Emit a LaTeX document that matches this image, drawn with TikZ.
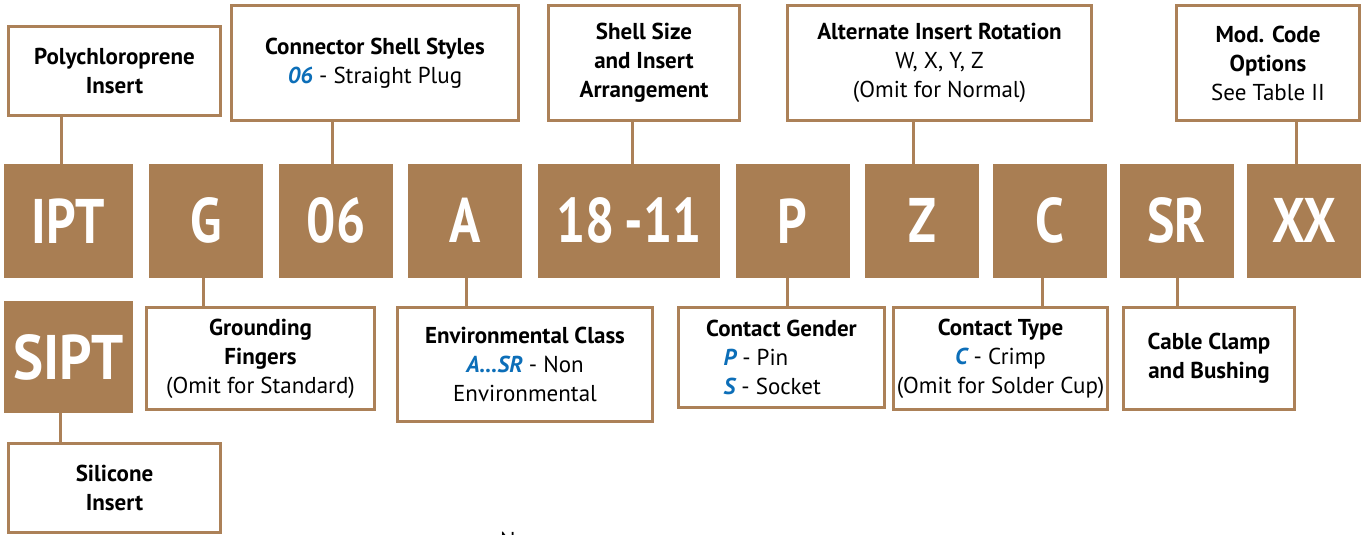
\documentclass[tikz,border=0pt]{standalone}
\usepackage{fontspec}
\setmainfont{PT Sans}
\definecolor{brownfill}{RGB}{169,126,83}
\definecolor{brownline}{RGB}{172,129,88}
\definecolor{codeblue}{RGB}{12,110,184}
\newcommand{\blueit}[1]{\textcolor{codeblue}{\bfseries\itshape #1}}
\newcommand{\cnd}[1]{\scalebox{0.82}[1]{#1}}
\begin{document}
\begin{tikzpicture}[x=1pt,y=-1pt,
  codebox/.style={fill=brownfill, draw=none, text=white, inner sep=0pt,
    font=\fontsize{63}{63}\selectfont\bfseries, minimum width=114pt, minimum height=113.5pt},
  lbl/.style={draw=brownline, line width=3pt, fill=white, align=center, inner sep=0pt,
    font=\fontsize{23}{29}\selectfont},
  conn/.style={draw=brownline, line width=3pt}]
\useasboundingbox (0,0) rectangle (1362,535);
% code boxes
\node[codebox, minimum width=129pt] (ipt) at (68.5,220.75) {\cnd{IPT}};
\node[codebox] (g) at (206,220.75) {\cnd{G}};
\node[codebox] (s06) at (336,220.75) {\cnd{06}};
\node[codebox] (a) at (465,220.75) {\cnd{A}};
\node[codebox, minimum width=182pt] (size) at (629,220.75) {\cnd{18\hspace{12pt}-11}};
\node[codebox] (p) at (792.5,220.75) {\cnd{P}};
\node[codebox] (z) at (922,220.75) {\cnd{Z}};
\node[codebox] (c) at (1049.5,220.75) {\cnd{C}};
\node[codebox] (sr) at (1176.5,220.75) {\cnd{SR}};
\node[codebox] (xx) at (1304,220.75) {\cnd{XX}};
\node[codebox, minimum width=129pt, minimum height=112pt] (sipt) at (68.5,357) {\scalebox{0.9}[1]{SIPT}};
% top labels
\node[lbl, minimum width=212pt, minimum height=89pt] (poly) at (114.5,71)
  {\textbf{Polychloroprene}\\\textbf{Insert}};
\node[lbl, minimum width=287pt, minimum height=115pt] (styles) at (375,63)
  {\textbf{Connector Shell Styles}\\\blueit{06} - Straight Plug};
\node[lbl, minimum width=191pt, minimum height=115pt] (arr) at (644,63)
  {\textbf{Shell Size}\\\textbf{and Insert}\\\textbf{Arrangement}};
\node[lbl, minimum width=304pt, minimum height=115pt] (rot) at (939.5,63)
  {\textbf{Alternate Insert Rotation}\\W, X, Y, Z\\(Omit for Normal)};
\node[lbl, minimum width=183pt, minimum height=115pt] (mod) at (1268,63)
  {\textbf{Mod. Code}\\\textbf{Options}\\See Table II};
% bottom labels
\node[lbl, minimum width=228pt, minimum height=102pt] (ground) at (260.5,358.5)
  {\textbf{Grounding}\\\textbf{Fingers}\\(Omit for Standard)};
\node[lbl, minimum width=212pt, minimum height=89pt] (sil) at (114.5,488)
  {\textbf{Silicone}\\\textbf{Insert}};
\node[lbl, minimum width=255pt, minimum height=114pt] (env) at (525,364.5)
  {\textbf{Environmental Class}\\\blueit{A\ldots SR} - Non\\Environmental};
\node[lbl, minimum width=206pt, minimum height=100pt] (gender) at (781.5,357.5)
  {\textbf{Contact Gender}\\\hspace*{-14pt}\makebox[102pt][l]{\blueit{P} - Pin}\\\hspace*{-14pt}\makebox[102pt][l]{\blueit{S} - Socket}};
\node[lbl, minimum width=214pt, minimum height=102pt] (ctype) at (1000.5,358.5)
  {\textbf{Contact Type}\\\blueit{C} - Crimp\\(Omit for Solder Cup)};
\node[lbl, minimum width=171pt, minimum height=102pt] (cable) at (1209,358.5)
  {\textbf{Cable Clamp}\\\textbf{and Bushing}};
% stray partial letter at bottom edge
\node[anchor=base west, inner sep=0pt, font=\fontsize{23}{29}\selectfont] (stray) at (500,548) {N};
% connector x positions
\coordinate (kpoly) at (61,0);
\coordinate (kstyles) at (332,0);
\coordinate (karr) at (632,0);
\coordinate (krot) at (913,0);
\coordinate (kmod) at (1296,0);
\coordinate (kground) at (203,0);
\coordinate (ksil) at (60,0);
\coordinate (kenv) at (466,0);
\coordinate (kgender) at (787,0);
\coordinate (kctype) at (1042,0);
\coordinate (kcable) at (1177,0);
% connectors
\draw[conn] (poly.south -| kpoly) -- (ipt.north -| kpoly);
\draw[conn] (styles.south -| kstyles) -- (s06.north -| kstyles);
\draw[conn] (arr.south -| karr) -- (size.north -| karr);
\draw[conn] (rot.south -| krot) -- (z.north -| krot);
\draw[conn] (mod.south -| kmod) -- (xx.north -| kmod);
\draw[conn] (g.south -| kground) -- (ground.north -| kground);
\draw[conn] (sipt.south -| ksil) -- (sil.north -| ksil);
\draw[conn] (a.south -| kenv) -- (env.north -| kenv);
\draw[conn] (p.south -| kgender) -- (gender.north -| kgender);
\draw[conn] (c.south -| kctype) -- (ctype.north -| kctype);
\draw[conn] (sr.south -| kcable) -- (cable.north -| kcable);
\end{tikzpicture}
\end{document}
